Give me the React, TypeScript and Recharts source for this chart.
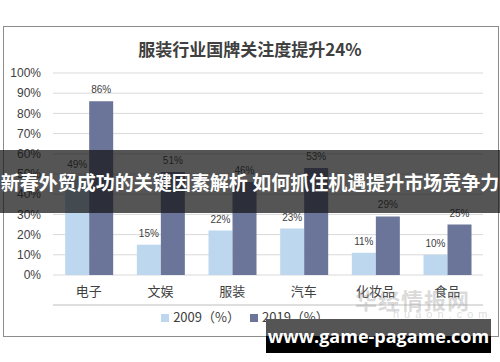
import { BarChart, Bar, XAxis, YAxis, CartesianGrid, Legend, LabelList } from 'recharts';

const categories = ['电子', '文娱', '服装', '汽车', '化妆品', '食品'];
const share2009 = [49, 15, 22, 23, 11, 10];
const share2019 = [86, 51, 46, 53, 29, 25];
const yTicks = [0, 10, 20, 30, 40, 50, 60, 70, 80, 90, 100];
const boundaryTicks = [0, 1, 2, 3, 4, 5, 6];

const data = categories.map((name, i) => ({
  name,
  y2009: share2009[i],
  y2019: share2019[i],
}));

const font = '"Liberation Sans", Arial, "Noto Sans CJK SC", sans-serif';
const cjk = '"Noto Sans CJK SC", sans-serif';

const App = () => {
  return (
    <div style={{ position: 'absolute', left: 0, top: 0, width: 500, height: 362, background: '#fff', fontFamily: font }}>
      <div style={{ position: 'absolute', left: 3, top: 26, width: 494, height: 309, border: '1px solid #8c8c8c' }} />
      <div style={{ position: 'absolute', left: 0, top: 36, width: 500, textAlign: 'center', fontFamily: cjk, fontWeight: 700, fontSize: 17, color: '#404040' }}>
        服装行业国牌关注度提升24%
      </div>
      <div style={{ position: 'absolute', left: 0, top: 0 }}>
        <BarChart
          width={500}
          height={362}
          data={data}
          margin={{ top: 73, right: 17, bottom: 52, left: 0 }}
          barCategoryGap="17%"
          barGap={0}
        >
          <CartesianGrid vertical={false} stroke="#d9d9d9" />
          <XAxis
            xAxisId="b"
            type="number"
            domain={[0, 6]}
            allowDataOverflow
            ticks={boundaryTicks}
            axisLine={{ stroke: '#bfbfbf' }}
            tick={false}
            tickLine={{ stroke: '#bfbfbf' }}
            tickSize={5}
            height={5}
          />
          <XAxis
            dataKey="name"
            axisLine={false}
            tickLine={false}
            tick={{ fill: '#404040', fontSize: 13, fontFamily: cjk }}
            tickSize={0}
            tickMargin={12}
            height={30}
          />
          <YAxis
            width={53}
            domain={[0, 100]}
            ticks={yTicks}
            interval={0}
            tickFormatter={(v: number) => `${v}%`}
            axisLine={false}
            tickLine={false}
            tick={{ fill: '#404040', fontSize: 12 }}
            tickMargin={6}
          />
          <Legend
            verticalAlign="middle"
            align="center"
            layout="horizontal"
            iconType="square"
            iconSize={8}
            wrapperStyle={{ top: 307, left: 0, width: 500, fontSize: 13, fontFamily: cjk }}
            formatter={(value: string) => <span style={{ color: '#404040' }}>{value}</span>}
          />
          <Bar dataKey="y2009" name="2009（%）" fill="#bdd7ee" isAnimationActive={false}>
            <LabelList dataKey="y2009" position="top" formatter={(v: number) => `${v}%`} fill="#404040" fontSize={10} offset={8} />
          </Bar>
          <Bar dataKey="y2019" name="2019（%）" fill="#6b7599" isAnimationActive={false}>
            <LabelList dataKey="y2019" position="top" formatter={(v: number) => `${v}%`} fill="#404040" fontSize={10} offset={8} />
          </Bar>
        </BarChart>
      </div>
      <div style={{ position: 'absolute', left: 355, top: 283, fontFamily: cjk, fontWeight: 700, fontSize: 22, color: 'rgba(150,150,150,0.35)', letterSpacing: 1 }}>
        华经情报网
      </div>
      <div style={{ position: 'absolute', left: 393, top: 308, fontFamily: font, fontSize: 11, color: 'rgba(150,150,150,0.35)', letterSpacing: 5 }}>
        huaon.com
      </div>
      <div style={{ position: 'absolute', left: 0, top: 150, width: 500, height: 63, background: 'rgba(20,20,20,0.72)', display: 'flex', alignItems: 'center', justifyContent: 'center', overflow: 'hidden' }}>
        <span style={{ fontFamily: cjk, fontWeight: 700, fontSize: 19, color: '#fff', whiteSpace: 'nowrap' }}>
          新春外贸成功的关键因素解析 如何抓住机遇提升市场竞争力
        </span>
      </div>
      <div style={{ position: 'absolute', left: 266, top: 319, width: 225, height: 34, background: 'linear-gradient(#555 0%, #555 50%, #000 50%, #000 100%)', display: 'flex', alignItems: 'center', justifyContent: 'center' }}>
        <span style={{ fontFamily: '"Open Sans", "DejaVu Sans", sans-serif', fontWeight: 700, fontSize: 18, color: '#fff' }}>
          www.game-pagame.com
        </span>
      </div>
    </div>
  );
};

export default App;
